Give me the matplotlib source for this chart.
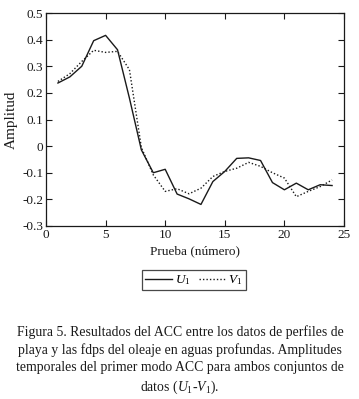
import matplotlib
matplotlib.use("Agg")
import matplotlib.pyplot as plt
import numpy as np

plt.rcParams["font.family"] = ["Liberation Serif", "DejaVu Serif"]
plt.rcParams["mathtext.fontset"] = "custom"
plt.rcParams["mathtext.rm"] = "Liberation Serif"
plt.rcParams["mathtext.it"] = "Liberation Serif:italic"

# Temporal amplitudes of the first CCA mode
prueba = np.arange(1, 25)
u1 = [0.237, 0.26, 0.30, 0.396, 0.416, 0.362, 0.18, -0.014, -0.10, -0.087, -0.18,
      -0.198, -0.219, -0.133, -0.095, -0.046, -0.044, -0.054, -0.137, -0.164,
      -0.139, -0.164, -0.145, -0.148]
v1 = [0.243, 0.272, 0.318, 0.36, 0.352, 0.356, 0.287, -0.005, -0.108, -0.17, -0.16,
      -0.179, -0.158, -0.114, -0.095, -0.083, -0.061, -0.076, -0.10, -0.12,
      -0.19, -0.17, -0.152, -0.127]

xticks = [0, 5, 10, 15, 20, 25]
yticks = [-0.3, -0.2, -0.1, 0, 0.1, 0.2, 0.3, 0.4, 0.5]
ytick_labels = ["-0.3", "-0.2", "-0.1", "0", "0.1", "0.2", "0.3", "0.4", "0.5"]

caption = ("Figura 5. Resultados del ACC entre los datos de perfiles de\n"
           "playa y las fdps del oleaje en aguas profundas. Amplitudes\n"
           "temporales del primer modo ACC para ambos conjuntos de\n"
           "datos ($U_1$-$V_1$).")

W, H = 359, 399
fig = plt.figure(figsize=(W / 100, H / 100), dpi=100)
ax = fig.add_axes([46 / W, 1 - 226 / H, 298 / W, 213 / H])

ax.plot(prueba, u1, color="#1a1a1a", linewidth=1.0, label="$U_1$")
ax.plot(prueba, v1, color="#1a1a1a", linewidth=1.0, linestyle=(0, (1, 1.5)), label="$V_1$")

ax.set_xlim(0, 25)
ax.set_ylim(-0.3, 0.5)
ax.set_xticks(xticks)
ax.set_yticks(yticks)
ax.set_yticklabels(ytick_labels)
ax.tick_params(direction="in", top=True, right=True, length=4, width=0.8,
               labelsize=9.5, pad=2, colors="#1a1a1a")
for s in ax.spines.values():
    s.set_linewidth(0.9)
    s.set_color("#1a1a1a")

ax.set_xlabel("Prueba (número)", fontsize=9.5, labelpad=3, color="#1a1a1a")
ax.set_ylabel("Amplitud", fontsize=11, labelpad=3, color="#1a1a1a")

leg = ax.legend(loc="upper center", bbox_to_anchor=(148 / 298, -44 / 213), ncol=2,
                frameon=True, fancybox=False, edgecolor="#1a1a1a", fontsize=9.5,
                handlelength=2.0, handletextpad=0.25, columnspacing=0.6,
                borderpad=0.25, borderaxespad=0, handleheight=0.6)
leg.get_frame().set_linewidth(0.9)

fig.text(180 / W, 1 - 325 / H, caption, ha="center", va="top", fontsize=9.9,
         linespacing=1.4, color="#1a1a1a")

fig.savefig("out.png", dpi=100)
